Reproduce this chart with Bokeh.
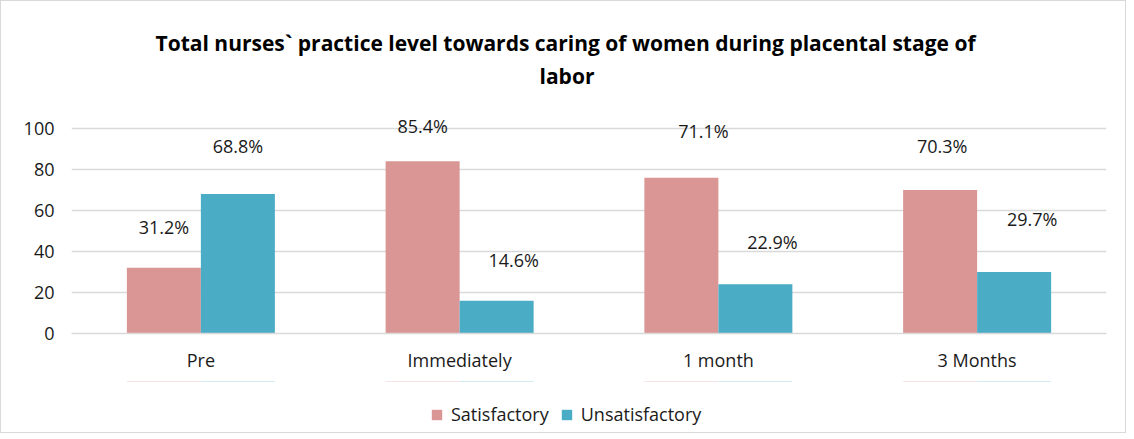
from bokeh.plotting import figure
from bokeh.layouts import column
from bokeh.models import (FactorRange, Range1d, ColumnDataSource, Legend, LegendItem,
                          Title, FixedTicker)
from bokeh.transform import dodge
from bokeh.core.properties import value
from bokeh.embed import file_html
from bokeh.resources import INLINE

# ---- data ----
categories = ["Pre", "Immediately", "1 month", "3 Months"]
satisfactory = [32, 84, 76, 70]
unsatisfactory = [68, 16, 24, 30]
sat_labels = ["31.2%", "85.4%", "71.1%", "70.3%"]
unsat_labels = ["68.8%", "14.6%", "22.9%", "29.7%"]
y_ticks = [0, 20, 40, 60, 80, 100]
title_line1 = "Total nurses` practice level towards caring of women during placental stage of"
title_line2 = "labor"
series_names = ["Satisfactory", "Unsatisfactory"]

# ---- label placement tweaks (layout only) ----
sat_dy = [19.7, 17, 22.5, 21.4]
sat_dx = [0, 0, 22, 2]
unsat_dy = [23.4, 19.8, 20.4, 25.6]
unsat_dx = [0, 17, 17, 18]

PINK = "#D99694"
TEAL = "#4BACC6"
FONT = "Open Sans"
TXT = "#1a1a1a"
FS = "18px"
W = 1124

src = ColumnDataSource(dict(
    cat=categories, sat=satisfactory, unsat=unsatisfactory,
    sat_lab=sat_labels, unsat_lab=unsat_labels,
    sat_ly=[v + d for v, d in zip(satisfactory, sat_dy)],
    unsat_ly=[v + d for v, d in zip(unsatisfactory, unsat_dy)],
    sat_dx=sat_dx, unsat_dx=unsat_dx,
))

xr = FactorRange(factors=categories, range_padding=0)
p = figure(x_range=xr, y_range=Range1d(0, 118),
           width=W, height=380, output_backend="svg", toolbar_location=None,
           min_border_left=70, min_border_right=19, min_border_top=90,
           min_border_bottom=48)
p.outline_line_color = None
p.background_fill_color = "white"
p.border_fill_color = "white"

bw = 0.286
r1 = p.vbar(x=dodge("cat", -bw / 2, range=xr), top="sat", width=bw,
            source=src, fill_color=PINK, line_color=None)
r2 = p.vbar(x=dodge("cat", bw / 2, range=xr), top="unsat", width=bw,
            source=src, fill_color=TEAL, line_color=None)

p.text(x=dodge("cat", -bw / 2, range=xr), y="sat_ly", text="sat_lab",
       x_offset="sat_dx", source=src, text_align="center", text_baseline="middle",
       text_font=value(FONT), text_font_size=FS, text_color=TXT)
p.text(x=dodge("cat", bw / 2, range=xr), y="unsat_ly", text="unsat_lab",
       x_offset="unsat_dx", source=src, text_align="center", text_baseline="middle",
       text_font=value(FONT), text_font_size=FS, text_color=TXT)

# grid
p.xgrid.visible = False
p.ygrid.grid_line_color = "#D9D9D9"
p.ygrid.grid_line_width = 1.3
p.ygrid.ticker = FixedTicker(ticks=y_ticks)

# axes
p.yaxis.ticker = FixedTicker(ticks=y_ticks)
for ax in (p.xaxis, p.yaxis):
    ax.major_tick_line_color = None
    ax.minor_tick_line_color = None
    ax.major_tick_out = 0
    ax.major_tick_in = 0
    ax.major_label_text_font = FONT
    ax.major_label_text_font_size = FS
    ax.major_label_text_color = TXT
p.yaxis.axis_line_color = None
p.yaxis.major_label_standoff = 17
p.xaxis.axis_line_color = "#D9D9D9"
p.xaxis.axis_line_width = 1.3
p.xaxis.major_label_standoff = 14

# title: two centred lines (first added sits closest to the plot)
p.add_layout(Title(text=title_line2, align="left", offset=468, text_font=FONT,
                   text_font_size="21px", text_font_style="bold",
                   text_color="#000000", standoff=4), "above")
p.add_layout(Title(text=title_line1, align="left", offset=84, text_font=FONT,
                   text_font_size="21px", text_font_style="bold",
                   text_color="#000000", standoff=2), "above")

# legend strip under the chart (zero-height keys; only the legend shows)
lg = figure(width=W, height=51, x_range=xr, y_range=Range1d(-2, -1),
            output_backend="svg", toolbar_location=None, min_border=0)
lg.axis.visible = False
lg.grid.visible = False
lg.outline_line_color = None
lg.background_fill_color = "white"
lg.border_fill_color = "white"
g1 = lg.vbar(x=dodge("cat", -bw / 2, range=xr), top="sat", bottom="sat", width=bw,
             source=src, fill_color=PINK, line_color=None)
g2 = lg.vbar(x=dodge("cat", bw / 2, range=xr), top="unsat", bottom="unsat", width=bw,
             source=src, fill_color=TEAL, line_color=None)
legend = Legend(items=[LegendItem(label=series_names[0], renderers=[g1]),
                       LegendItem(label=series_names[1], renderers=[g2])],
                orientation="horizontal", location=(359, 6),
                label_text_font=FONT, label_text_font_size=FS,
                label_text_color=TXT, glyph_width=13, glyph_height=13,
                label_height=24, label_standoff=8, spacing=11, padding=0, margin=0,
                border_line_color=None, background_fill_alpha=0)
lg.add_layout(legend, "center")

layout = column(p, lg, spacing=0)
layout.styles = {"border": "1px solid #D9D9D9"}

open("out.html", "w").write(file_html(layout, INLINE))
